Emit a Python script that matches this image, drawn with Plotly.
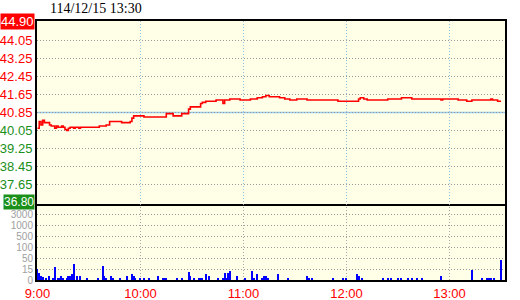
import plotly.graph_objects as go
import numpy as np

# ---------------- data ----------------
title_text = "114/12/15 13:30"

# minutes after 9:00 and last price (step line)
price_min = [0, 1, 2, 3, 4, 7, 8, 10, 11, 12, 14, 15, 16, 17, 18, 19, 21, 22, 24, 25,
             28, 36, 40, 42, 49, 54, 55, 56, 62, 75, 79, 84, 88, 89, 95, 96, 98, 104,
             108, 109, 112, 118, 124, 128, 131, 133, 135, 140, 141, 144, 147, 151, 157,
             175, 187, 188, 190, 192, 204, 212, 218, 235, 236, 245, 250, 253, 264, 265,
             268, 270]
price_val = [40.15, 40.45, 40.30, 40.50, 40.40, 40.30, 40.25, 40.15, 40.25, 40.20, 40.25,
             40.20, 40.10, 40.05, 40.15, 40.20, 40.15, 40.20, 40.15, 40.20,
             40.20, 40.25, 40.30, 40.45, 40.40, 40.45, 40.60, 40.70, 40.65, 40.80, 40.70,
             40.80, 41.00, 41.10, 41.25, 41.30, 41.35, 41.40,
             41.25, 41.40, 41.45, 41.40, 41.45, 41.50, 41.55, 41.60, 41.55, 41.55, 41.50,
             41.45, 41.40, 41.45, 41.40,
             41.35, 41.45, 41.50, 41.45, 41.40, 41.45, 41.50, 41.45, 41.40, 41.45, 41.40,
             41.35, 41.40, 41.45, 41.40,
             41.35, 41.35]

# minutes after 9:00 and traded volume
vol_min = [0, 1, 2, 3, 5, 7, 9, 10, 12, 13, 14, 15, 17, 18, 19, 20, 21, 23, 25, 29, 35,
           38, 39, 40, 43, 44, 48, 52, 55, 56, 57, 60, 62, 65, 70, 73, 74, 75, 81, 84,
           88, 89, 91, 94, 95, 96, 98, 100, 105, 108, 109, 110, 111, 112, 116, 121, 125,
           126, 128, 131, 132, 133, 134, 140, 146, 157, 158, 160, 172, 178, 180, 186, 187,
           189, 201, 204, 206, 210, 212, 216, 218, 221, 224, 235, 253, 259, 262, 263, 264,
           266, 270]
vol_val = [16, 9, 6, 4, 3, 5, 3, 21, 3, 3, 6, 2, 3, 5, 6, 8, 32, 5, 5, 2, 3,
           26, 6, 2, 5, 3, 2, 5, 8, 5, 2, 3, 3, 2, 5, 2, 3, 3, 2, 3,
           11, 5, 3, 2, 3, 3, 8, 5, 2, 3, 9, 3, 9, 12, 5, 2, 12,
           2, 8, 3, 5, 6, 2, 8, 3, 5, 2, 3, 2, 2, 3, 8, 6,
           3, 3, 2, 3, 3, 3, 3, 3, 2, 2, 5, 14, 2, 3, 2, 3,
           2, 45]

time_ticks = [0, 60, 120, 180, 240]
time_labels = ["9:00", "10:00", "11:00", "12:00", "13:00"]

price_top = 44.90
price_bottom = 36.80
ref_price = 40.85
price_ticks = [44.05, 43.25, 42.45, 41.65, 40.85, 40.05, 39.25, 38.45, 37.65]

vol_levels = [0, 15, 50, 100, 500, 1000, 3000]
vol_labels = ["0", "15", "50", "100", "500", "1000", "3000"]

# ---------------- styling ----------------
RED = "#ff0000"
GREEN = "#1a8f1a"
FONT = "Liberation Sans, Arial, sans-serif"
BG = "#ffffe8"
DOT = "1px,2px"

vol_pos = np.interp(vol_val, vol_levels, list(range(len(vol_levels))))

price_text = [
    f'<span style="color:{RED if p >= ref_price else GREEN}">{p:.2f}</span>'
    for p in price_ticks
]
vol_text = [f'<span style="color:#a0a0a0">{t}</span>' for t in vol_labels]

fig = go.Figure()
fig.add_trace(go.Scatter(
    x=price_min, y=price_val, mode="lines",
    line=dict(color="#ff0000", width=1.6, shape="hv"),
    xaxis="x", yaxis="y", hoverinfo="skip"))
fig.add_trace(go.Bar(
    x=vol_min, y=vol_pos, marker=dict(color="#0000ff", line=dict(width=0)),
    width=0.65, xaxis="x2", yaxis="y2", hoverinfo="skip"))

split = 76 / 259

common_x = dict(range=[-0.3, 272.3], tickvals=time_ticks, zeroline=False,
                showline=True, linecolor="black", linewidth=2, automargin=False,
                ticks="", showgrid=True, griddash=DOT, gridwidth=1)

fig.update_layout(
    width=520, height=300,
    margin=dict(l=37, r=15, t=21, b=20, autoexpand=False),
    paper_bgcolor="white", plot_bgcolor=BG,
    showlegend=False, bargap=0,
    font=dict(family=FONT, size=13),
    xaxis=dict(common_x, domain=[0, 1], anchor="y", showticklabels=False,
               mirror=True, gridcolor="#8fc0e0"),
    xaxis2=dict(common_x, domain=[0, 1], anchor="y2", matches="x", mirror=False,
                ticktext=time_labels, tickfont=dict(color=RED, size=13, family=FONT),
                gridcolor="#a8a8a8"),
    yaxis=dict(domain=[split, 1], range=[price_bottom, price_top], anchor="x",
               tickvals=price_ticks, ticktext=price_text, zeroline=False,
               showline=True, mirror=True, linecolor="black", linewidth=2,
               automargin=False,
               ticks="", showgrid=True, gridcolor="#9a9a9a", griddash=DOT,
               tickfont=dict(size=13, family=FONT)),
    yaxis2=dict(domain=[0, split], range=[0, 7], anchor="x2",
                tickvals=list(range(len(vol_levels))), ticktext=vol_text,
                zeroline=False, showline=True, mirror=True, linecolor="black",
                linewidth=2, automargin=False, ticks="", showgrid=True,
                gridcolor="#9a9a9a",
                griddash=DOT, tickfont=dict(size=10, family=FONT)),
)

fig.add_shape(type="line", xref="x domain", x0=0, x1=1, yref="y",
              y0=ref_price, y1=ref_price, line=dict(color="#99ccee", width=1.5),
              layer="below")

fig.add_annotation(text=title_text, xref="paper", yref="paper",
                   x=(48 - 37) / 468, y=1 + (21 - 8) / 259,
                   xanchor="left", yanchor="middle", showarrow=False,
                   font=dict(family="Liberation Serif, Times New Roman, serif",
                             size=14, color="black"))
fig.add_annotation(text=f"{price_top:.2f}", xref="paper", yref="y",
                   x=0, y=price_top, xanchor="right", yanchor="middle",
                   xshift=-2, showarrow=False, bgcolor=RED, borderpad=0,
                   font=dict(color="white", size=13, family=FONT))
fig.add_annotation(text=f"{price_bottom:.2f}", xref="paper", yref="y",
                   x=0, y=price_bottom, xanchor="right", yanchor="middle",
                   xshift=-2, yshift=2, showarrow=False, bgcolor=GREEN,
                   borderpad=0, font=dict(color="white", size=12, family=FONT))

fig.write_html("out.html")
